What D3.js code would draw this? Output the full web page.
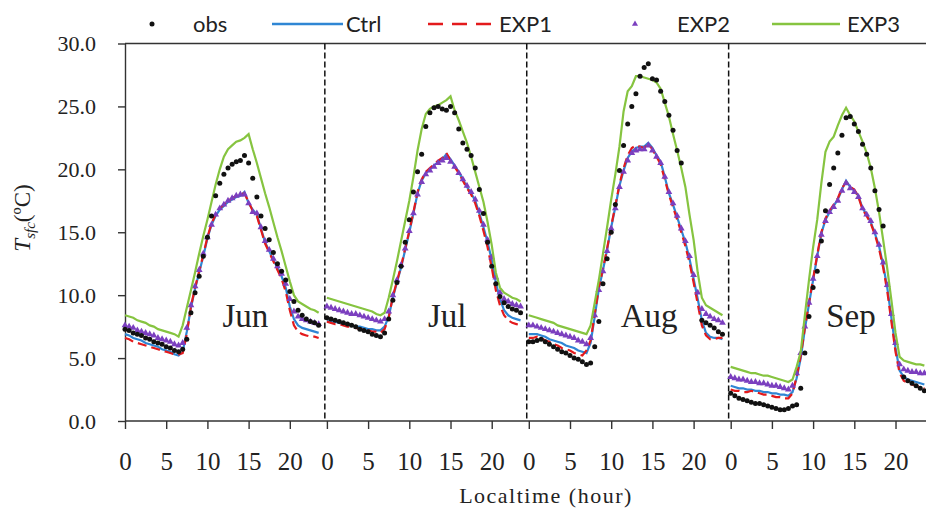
<!DOCTYPE html>
<html><head><meta charset="utf-8">
<script src="https://cdn.jsdelivr.net/npm/d3@7"></script>
<style>body{margin:0;background:#fff} svg{display:block}</style>
</head><body><svg id="c" width="926" height="509"></svg>
<script>
const months = ["Jun","Jul","Aug","Sep"];
const hours = d3.range(0, 24, 0.5);
const xTickHours = [0,5,10,15,20];
const yTickValues = [0,5,10,15,20,25,30];
const seriesNames = ["obs","Ctrl","EXP1","EXP2","EXP3"];

// ---- June ----
const obsJun  = [7.3,7.2,7.0,6.9,6.8,6.6,6.5,6.3,6.2,6.1, 5.9,5.8,5.6,5.5,5.7,6.5,8.6,10.2,11.5,13.1, 14.6,16.3,17.9,18.9,19.6,20.1,20.4,20.6,20.7,21.1, 20.5,19.3,17.8,16.3,15.3,14.4,13.4,12.5,11.9,11.2, 10.3,9.5,8.8,8.4,8.1,7.9,7.8,7.6];
const ctrlJun = [6.9,6.8,6.6,6.5,6.4,6.2,6.1,6.0,5.9,5.7, 5.6,5.5,5.3,5.2,5.5,7.1,9.0,10.5,11.8,13.1, 14.5,15.6,16.3,16.8,17.1,17.4,17.6,17.8,17.9,18.2, 17.3,16.8,16.4,15.3,14.2,13.5,12.8,12.2,11.5,10.6, 9.1,8.1,7.6,7.4,7.3,7.2,7.1,7.0];
const exp1Jun = [6.6,6.5,6.3,6.2,6.1,6.0,5.9,5.8,5.7,5.6, 5.5,5.4,5.3,5.3,5.4,6.9,9.1,10.6,11.9,13.2, 14.6,15.7,16.4,16.9,17.2,17.5,17.7,17.9,18.0,18.1, 17.4,16.7,16.3,15.2,14.1,13.4,12.7,12.0,11.3,10.3, 8.8,7.6,7.1,6.9,6.8,6.7,6.7,6.6];
const exp2Jun = [7.6,7.5,7.4,7.2,7.1,7.0,6.9,6.8,6.6,6.5, 6.4,6.3,6.1,6.0,6.2,7.4,9.2,10.7,12.0,13.3, 14.6,15.6,16.4,16.9,17.2,17.5,17.7,17.9,18.0,18.0, 17.3,16.6,16.5,15.4,14.3,13.6,12.9,12.3,11.7,10.9, 9.7,8.7,8.3,8.1,8.0,7.9,7.8,7.7];
const exp3Jun = [8.4,8.3,8.2,8.0,7.9,7.8,7.6,7.5,7.3,7.2, 7.1,7.0,6.9,6.7,7.6,9.0,10.4,11.8,13.3,14.7, 16.0,17.4,18.8,20.0,21.0,21.6,21.9,22.2,22.3,22.5, 22.8,21.6,20.5,19.3,18.1,17.0,15.8,14.6,13.5,12.3, 11.1,10.0,9.5,9.3,9.1,8.9,8.8,8.6];
// ---- July ----
const obsJul  = [8.2,8.1,8.0,7.9,7.8,7.7,7.6,7.5,7.3,7.2, 7.1,6.9,6.8,6.7,7.0,8.1,9.6,11.0,12.3,14.2, 16.0,18.2,19.8,21.2,23.4,24.5,24.9,25.0,24.8,24.7, 25.0,24.5,23.2,22.1,21.6,21.1,20.1,18.4,16.5,14.2, 12.3,10.9,9.9,9.4,9.1,8.9,8.8,8.6];
const ctrlJul = [8.0,7.9,7.9,7.8,7.7,7.7,7.6,7.5,7.5,7.4, 7.3,7.3,7.2,7.2,7.5,8.3,9.8,11.0,12.2,13.6, 15.0,16.5,18.1,19.1,19.7,20.0,20.3,20.6,20.8,21.2, 20.8,20.3,19.8,19.2,18.6,18.1,17.5,16.5,15.4,14.2, 12.8,11.0,9.7,8.8,8.4,8.2,8.1,8.0];
const exp1Jul = [7.9,7.8,7.7,7.7,7.6,7.5,7.5,7.4,7.3,7.3, 7.2,7.1,7.1,7.0,7.3,8.2,9.9,11.1,12.3,13.7, 15.1,16.6,18.2,19.2,19.8,20.1,20.4,20.7,20.9,21.3, 20.7,20.2,19.7,19.1,18.5,18.0,17.3,16.3,15.1,13.8, 12.2,10.4,9.2,8.4,8.0,7.8,7.7,7.6];
const exp2Jul = [9.1,9.0,8.9,8.8,8.7,8.6,8.5,8.5,8.4,8.3, 8.2,8.1,8.0,7.9,8.1,8.7,10.0,11.2,12.4,13.7, 15.1,16.5,18.0,19.0,19.6,19.9,20.2,20.5,20.7,20.9, 20.6,20.2,19.7,19.2,18.7,18.2,17.6,16.7,15.6,14.4, 13.0,11.4,10.2,9.7,9.5,9.3,9.2,9.1];
const exp3Jul = [9.8,9.7,9.6,9.5,9.4,9.3,9.2,9.1,9.0,8.9, 8.8,8.7,8.5,8.4,8.6,9.8,11.2,12.7,14.3,15.9, 17.5,19.4,21.5,23.2,24.4,24.8,25.0,25.1,25.3,25.5, 25.8,24.7,23.9,23.0,22.1,21.0,19.8,18.6,17.4,15.8, 14.0,11.8,10.6,10.2,10.0,9.8,9.7,9.5];
// ---- August ----
const obsAug  = [6.3,6.3,6.4,6.5,6.3,6.1,5.9,5.7,5.5,5.4, 5.2,5.0,4.9,4.7,4.5,4.6,5.9,7.9,10.9,12.9, 15.0,17.2,19.9,21.9,23.6,25.0,26.0,27.4,28.1,28.4, 27.2,27.1,26.2,25.4,24.3,23.1,21.5,20.5,null,null, null,null,8.0,7.8,7.6,7.4,7.1,6.9];
const ctrlAug = [6.9,6.9,6.9,6.8,6.7,6.5,6.4,6.3,6.2,6.0, 5.9,5.8,5.6,5.5,5.4,6.2,8.3,10.5,12.0,13.6, 15.4,17.0,18.7,19.9,20.9,21.4,21.7,21.8,21.8,22.1, 21.7,21.1,20.6,19.4,18.1,17.2,16.2,15.2,14.2,12.9, 11.3,9.7,8.0,7.0,6.7,6.6,6.6,6.5];
const exp1Aug = [6.6,6.6,6.7,6.6,6.4,6.3,6.1,6.0,5.8,5.7, 5.6,5.4,5.3,5.2,5.6,6.4,8.5,10.6,12.1,13.7, 15.5,17.1,18.8,20.1,21.1,21.7,21.9,21.8,21.7,22.0, 21.6,21.0,20.4,19.2,18.0,17.0,16.0,15.0,13.9,12.6, 11.0,9.3,7.6,6.8,6.5,6.5,6.6,6.6];
const exp2Aug = [7.6,7.6,7.5,7.4,7.3,7.2,7.1,7.0,6.9,6.8, 6.7,6.6,6.4,6.3,6.1,6.6,8.4,10.4,11.9,13.5, 15.3,16.9,18.6,19.8,20.7,21.3,21.5,21.6,21.6,21.9, 21.5,21.0,20.5,19.4,18.2,17.3,16.3,15.3,14.3,13.1, 11.6,10.2,8.9,8.5,8.3,8.1,8.0,7.8];
const exp3Aug = [8.4,8.3,8.2,8.1,8.0,7.9,7.8,7.6,7.5,7.4, 7.3,7.2,7.1,7.0,6.9,7.6,9.4,11.2,13.3,15.4, 17.6,19.6,21.8,24.6,26.2,26.6,27.4,27.4,27.3,27.2, 27.1,26.9,26.4,25.3,24.2,22.8,21.5,20.1,18.6,16.4, 14.4,11.8,9.8,9.2,9.0,8.8,8.6,8.4];
// ---- September ----
const obsSep  = [2.2,2.0,1.8,1.7,1.6,1.5,1.4,1.4,1.3,1.2, 1.1,1.0,0.9,0.9,1.0,1.2,1.3,2.6,5.4,8.3, 10.6,11.9,14.3,16.7,18.8,20.1,21.3,22.7,24.1,24.2, 23.6,23.0,22.0,21.2,20.1,18.3,16.8,15.5,null,null, null,null,3.5,3.2,3.0,2.8,2.6,2.4];
const ctrlSep = [2.8,2.7,2.6,2.6,2.5,2.5,2.4,2.4,2.3,2.3, 2.2,2.2,2.1,2.1,2.0,2.3,3.4,5.0,7.3,9.3, 11.2,13.1,14.9,16.0,16.6,17.1,17.6,18.4,19.1,18.6, 18.3,17.9,16.9,16.4,15.8,14.9,13.9,12.4,10.6,8.2, 5.8,4.0,3.5,3.3,3.2,3.1,3.0,2.9];
const exp1Sep = [2.5,2.4,2.4,2.3,2.3,2.4,2.3,2.2,2.1,2.1, 2.0,1.9,1.9,1.8,1.8,2.2,3.5,5.2,7.4,9.4, 11.3,13.2,15.0,16.1,16.7,17.2,17.7,18.5,19.0,18.6, 18.4,17.8,16.8,16.3,15.7,14.8,13.7,12.2,10.3,7.9, 5.5,3.8,3.2,3.0,2.9,2.8,2.7,2.6];
const exp2Sep = [3.5,3.4,3.3,3.3,3.2,3.1,3.1,3.0,3.0,2.9, 2.8,2.8,2.7,2.6,2.5,2.8,3.8,5.4,7.5,9.4, 11.3,13.1,14.8,15.9,16.6,17.0,17.5,18.3,18.9,18.5, 18.2,17.8,16.9,16.4,15.9,15.0,14.0,12.6,10.8,8.5, 6.2,4.5,4.1,4.0,3.9,3.9,3.8,3.8];
const exp3Sep = [4.3,4.2,4.1,4.0,3.9,3.8,3.8,3.7,3.6,3.6, 3.5,3.4,3.3,3.2,3.1,3.3,4.3,5.5,8.4,11.2, 13.8,16.0,18.9,21.4,22.2,22.6,23.5,24.3,24.9,24.3, 23.8,23.0,22.2,21.3,20.1,18.5,16.6,14.4,12.1,9.6, 7.0,5.1,4.8,4.7,4.6,4.5,4.5,4.4];

const obsAll  = [obsJun, obsJul, obsAug, obsSep];
const ctrlAll = [ctrlJun, ctrlJul, ctrlAug, ctrlSep];
const exp1All = [exp1Jun, exp1Jul, exp1Aug, exp1Sep];
const exp2All = [exp2Jun, exp2Jul, exp2Aug, exp2Sep];
const exp3All = [exp3Jun, exp3Jul, exp3Aug, exp3Sep];

const colors = {obs:"#111", Ctrl:"#2f86d4", EXP1:"#e31a1c", EXP2:"#7b3fbf", EXP3:"#86c440"};
const panelSpan = 24.5;

const svg = d3.select("#c");
const x = d3.scaleLinear().domain([0, 4*panelSpan]).range([125, 932.6]);
const y = d3.scaleLinear().domain([0, 30]).range([421, 43.5]);
const gx = (p, h) => x(p*panelSpan + h);

// top border
svg.append("line").attr("x1",125).attr("x2",926).attr("y1",y(30)).attr("y2",y(30))
  .attr("stroke","#333").attr("stroke-width",1.4);

// dashed separators
svg.append("g").selectAll("line").data([1,2,3]).join("line")
  .attr("x1", p => x(p*panelSpan-0.25)).attr("x2", p => x(p*panelSpan-0.25))
  .attr("y1", y(30)).attr("y2", y(0))
  .attr("stroke","#111").attr("stroke-width",1.5).attr("stroke-dasharray","6,3");

// axes
const serif = "'Liberation Serif','Times New Roman',serif";
const yAxis = svg.append("g").attr("transform","translate(125,0)")
  .call(d3.axisLeft(y).tickValues(yTickValues).tickFormat(d3.format(".1f")).tickSize(7).tickSizeOuter(0).tickPadding(22));
yAxis.selectAll("text").attr("font-family",serif).attr("font-size",22).attr("fill","#222");
yAxis.selectAll("path,line").attr("stroke","#333").attr("stroke-width",1.4);

const xTicks = [];
months.forEach((m,p) => xTickHours.forEach(h => xTicks.push(p*panelSpan + h)));
const xAxis = svg.append("g").attr("transform",`translate(0,${y(0)})`)
  .call(d3.axisBottom(x).tickValues(xTicks).tickFormat(d => Math.round(d % panelSpan)).tickSize(8).tickSizeOuter(0));
xAxis.select(".domain").attr("d", `M125,0H926`);
xAxis.selectAll("text").attr("font-family",serif).attr("font-size",25).attr("fill","#222").attr("dy",0).attr("y",49);
xAxis.selectAll("path,line").attr("stroke","#333").attr("stroke-width",1.4);

// axis titles
svg.append("text").attr("x",546).attr("y",503).attr("text-anchor","middle")
  .attr("font-family",serif).attr("font-size",22).attr("letter-spacing",1.5).attr("fill","#222")
  .text("Localtime (hour)");
const yt = svg.append("text").attr("transform","translate(30,218) rotate(-90)").attr("text-anchor","middle")
  .attr("font-family",serif).attr("font-size",23).attr("fill","#222");
yt.append("tspan").attr("font-style","italic").text("T");
yt.append("tspan").attr("font-style","italic").attr("font-size",15).attr("dy",5).text("sfc");
yt.append("tspan").attr("dy",-5).text("(ºC)");

// month labels
svg.append("g").selectAll("text").data(months).join("text")
  .attr("x",(m,p) => gx(p,14.6)).attr("y",327).attr("text-anchor","middle")
  .attr("font-family",serif).attr("font-size",33).attr("fill","#222").text(m => m);

// series
const line = d3.line().defined(d => d.v != null).x(d => gx(d.p, d.h)).y(d => y(d.v));
const pts = (arr, p) => hours.map((h,i) => ({p, h, v: arr[i]}));

function drawLine(all, color, dash) {
  const g = svg.append("g");
  all.forEach((arr,p) => g.append("path").attr("d", line(pts(arr,p)))
    .attr("fill","none").attr("stroke",color).attr("stroke-width",2.2)
    .attr("stroke-dasharray", dash || null));
}
drawLine(ctrlAll, colors.Ctrl);
drawLine(exp1All, colors.EXP1, "9,5");
const tri = d3.symbol().type(d3.symbolTriangle).size(20);
const g2 = svg.append("g");
exp2All.forEach((arr,p) => g2.selectAll(null).data(pts(arr,p).filter(d=>d.v!=null)).join("path")
  .attr("d", tri).attr("transform", d => `translate(${gx(d.p,d.h)},${y(d.v)})`).attr("fill",colors.EXP2));
drawLine(exp3All, colors.EXP3);
const g0 = svg.append("g");
obsAll.forEach((arr,p) => g0.selectAll(null).data(pts(arr,p).filter(d=>d.v!=null)).join("circle")
  .attr("cx", d => gx(d.p,d.h)).attr("cy", d => y(d.v)).attr("r",2.5).attr("fill",colors.obs));

// legend
const lg = svg.append("g").attr("font-family","Lato,'Open Sans',sans-serif").attr("font-size",22).attr("fill","#222");
const ly = 24, lb = 31.5;
lg.append("circle").attr("cx",152).attr("cy",ly).attr("r",2.5).attr("fill",colors.obs);
lg.append("text").attr("x",193).attr("y",lb).text(seriesNames[0]);
lg.append("line").attr("x1",272).attr("x2",343).attr("y1",ly).attr("y2",ly).attr("stroke",colors.Ctrl).attr("stroke-width",2.5);
lg.append("text").attr("x",346).attr("y",lb).text(seriesNames[1]);
lg.append("line").attr("x1",428).attr("x2",497).attr("y1",ly).attr("y2",ly).attr("stroke",colors.EXP1).attr("stroke-width",2.5).attr("stroke-dasharray","15,9");
lg.append("text").attr("x",499).attr("y",lb).text(seriesNames[2]);
lg.append("path").attr("d",d3.symbol().type(d3.symbolTriangle).size(16)).attr("transform",`translate(635,${ly})`).attr("fill",colors.EXP2);
lg.append("text").attr("x",677).attr("y",lb).text(seriesNames[3]);
lg.append("line").attr("x1",772).attr("x2",840).attr("y1",ly).attr("y2",ly).attr("stroke",colors.EXP3).attr("stroke-width",2.5);
lg.append("text").attr("x",847).attr("y",lb).text(seriesNames[4]);
</script></body></html>
